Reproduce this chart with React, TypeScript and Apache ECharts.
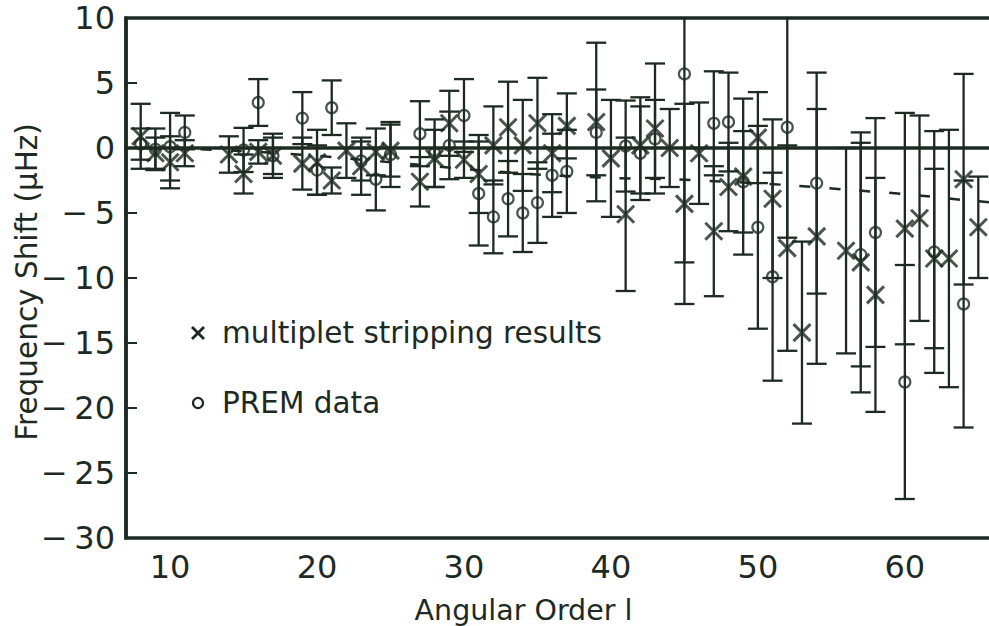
import React, { useEffect, useRef } from "react";
import * as echarts from "echarts";

// Angular order l and frequency shifts (μHz) with symmetric errors
const multL = [8, 9, 10, 11, 14, 15, 16, 17, 19, 20, 21, 22, 23, 24, 25, 27, 28, 29, 30, 31, 32, 33, 34, 35, 36, 37, 39, 40, 41, 42, 43, 44, 45, 46, 47, 48, 49, 50, 51, 52, 53, 54, 56, 57, 58, 60, 61, 62, 63, 64, 65];
const multVal = [0.9, -0.4, -1.1, -0.4, -0.5, -2.0, -0.3, -0.6, -1.2, -1.1, -2.5, -0.2, -1.4, -0.3, -0.2, -2.6, -0.8, 1.9, -0.9, -2.0, 0.2, 1.6, 0.2, 1.9, -0.4, 1.7, 2.0, -0.8, -5.1, 0.2, 1.5, 0.0, -4.3, -0.4, -6.4, -3.0, -2.2, 0.8, -3.9, -7.7, -14.2, -6.8, -7.9, -8.8, -11.3, -6.2, -5.4, -8.5, -8.5, -2.4, -6.1];
const multErr = [2.5, 1.2, 2.0, 1.0, 1.4, 1.5, 0.9, 1.7, 2.0, 2.5, 1.0, 2.1, 2.2, 1.8, 2.0, 1.9, 2.2, 2.5, 1.4, 3.0, 3.0, 3.5, 3.5, 3.5, 3.0, 2.5, 6.1, 4.5, 5.9, 3.7, 5.0, 3.0, 7.7, 3.9, 5.0, 3.4, 6.0, 3.5, 6.1, 7.9, 7.0, 9.8, 7.9, 10.0, 9.0, 8.9, 7.9, 6.9, 9.9, 8.1, 3.9];

const premL = [8, 9, 10, 11, 15, 16, 17, 19, 20, 21, 23, 24, 25, 27, 28, 29, 30, 31, 32, 33, 34, 35, 36, 37, 39, 41, 42, 43, 45, 47, 48, 49, 50, 51, 52, 54, 57, 58, 60, 62, 64];
const premVal = [0.3, -0.1, 0.1, 1.2, -0.15, 3.5, -0.6, 2.3, -1.7, 3.1, -1.0, -2.4, -0.5, 1.1, -0.4, 0.2, 2.5, -3.5, -5.3, -3.9, -5.0, -4.2, -2.1, -1.8, 1.2, 0.15, -0.4, 0.7, 5.7, 1.9, 2.0, -2.6, -6.1, -9.9, 1.6, -2.7, -8.2, -6.5, -18.0, -8.0, -12.0];
const premErr = [1.2, 1.6, 2.6, 1.3, 1.7, 1.8, 1.4, 2.0, 1.9, 2.1, 1.5, 2.4, 2.5, 2.5, 2.6, 2.6, 2.8, 4.0, 2.8, 2.9, 3.0, 3.1, 3.2, 3.2, 3.3, 3.5, 3.6, 3.0, 14.5, 4.0, 3.8, 3.9, 7.8, 8.0, 8.5, 8.5, 8.6, 8.8, 9.0, 9.3, 9.5];

const modelL = [8, 12, 16, 20, 24, 28, 32, 36, 40, 44, 48, 52, 56, 60, 64, 66];
const modelVal = [0.0, -0.1, -0.3, -0.6, -1.0, -1.4, -1.8, -2.1, -2.3, -2.4, -2.6, -2.85, -3.2, -3.55, -4.0, -4.2];

const zeroL = [7, 66];
const zeroVal = [0, 0];

const xTickLabels = ["10", "20", "30", "40", "50", "60"];
const legendLabels = ["multiplet stripping results", "PREM data"];

const INK = "#1d2a24";
const FONT = "DejaVu Sans";

function errorBarSeries(ls: number[], vs: number[], es: number[]) {
  return {
    type: "custom",
    clip: true,
    z: 2,
    encode: { x: 0, y: [1, 2] },
    data: ls.map((l, i) => [l, vs[i] - es[i], vs[i] + es[i]]),
    renderItem: (_p: any, api: any) => {
      const x = api.value(0);
      const top = api.coord([x, api.value(2)]);
      const bot = api.coord([x, api.value(1)]);
      const w = 10;
      const st = { stroke: INK, lineWidth: 2.3 };
      return {
        type: "group",
        children: [
          { type: "line", shape: { x1: top[0], y1: top[1], x2: bot[0], y2: bot[1] }, style: st },
          { type: "line", shape: { x1: top[0] - w, y1: top[1], x2: top[0] + w, y2: top[1] }, style: st },
          { type: "line", shape: { x1: bot[0] - w, y1: bot[1], x2: bot[0] + w, y2: bot[1] }, style: st },
        ],
      };
    },
  };
}

export default function App() {
  const ref = useRef<HTMLDivElement>(null);
  useEffect(() => {
    if (!ref.current) return;
    const chart = echarts.init(ref.current, null, { renderer: "svg" });
    chart.setOption({
      animation: false,
      backgroundColor: "#ffffff",
      grid: {
        left: 126,
        top: 18,
        width: 867,
        height: 520,
        outerBoundsMode: "none",
        containLabel: false,
        show: true,
        borderColor: INK,
        borderWidth: 3.5,
        backgroundColor: "transparent",
      },
      xAxis: {
        type: "value",
        min: 7,
        max: 66,
        name: "Angular Order l",
        nameLocation: "middle",
        nameGap: 58,
        nameMoveOverlap: false,
        nameTextStyle: { fontFamily: FONT, fontSize: 28.5, color: INK, padding: [0, 72, 0, 0] },
        axisLine: { lineStyle: { color: INK, width: 3.5 } },
        axisTick: { inside: true, length: 11, lineStyle: { color: INK, width: 2 } },
        splitLine: { show: false },
        axisLabel: {
          margin: 13,
          fontFamily: FONT,
          fontSize: 32,
          color: INK,
          formatter: (v: number) => (xTickLabels.includes(String(v)) ? String(v) : ""),
        },
      },
      yAxis: {
        type: "value",
        min: -30,
        max: 10,
        interval: 5,
        name: "Frequency Shift (μHz)",
        nameLocation: "middle",
        nameGap: 84,
        nameMoveOverlap: false,
        nameTextStyle: { fontFamily: FONT, fontSize: 29.5, color: INK, padding: [0, 8, 0, 0] },
        axisLine: { lineStyle: { color: INK, width: 3.5 } },
        axisTick: { inside: true, length: 11, lineStyle: { color: INK, width: 2 } },
        splitLine: { show: false },
        axisLabel: {
          margin: 11,
          fontFamily: FONT,
          fontSize: 32,
          color: INK,
          formatter: (v: number) => (v < 0 ? "\u2212\u2009" + Math.abs(v) : String(v)),
        },
      },
      series: [
        {
          type: "line",
          data: zeroL.map((l, i) => [l, zeroVal[i]]),
          symbol: "none",
          lineStyle: { color: INK, width: 2 },
          z: 1,
          silent: true,
        },
        {
          type: "line",
          data: modelL.map((l, i) => [l, modelVal[i]]),
          symbol: "none",
          smooth: 0.3,
          lineStyle: { color: INK, width: 2.5, type: [11, 19] },
          z: 4,
          silent: true,
        },
        errorBarSeries(multL, multVal, multErr),
        errorBarSeries(premL, premVal, premErr),
        {
          type: "scatter",
          name: legendLabels[0],
          data: multL.map((l, i) => [l, multVal[i]]),
          symbol: "path://M0,0L10,10M10,0L0,10",
          symbolSize: 17,
          itemStyle: { color: "rgba(0,0,0,0)", borderColor: INK, borderWidth: 3 },
          z: 3,
        },
        {
          type: "scatter",
          name: legendLabels[1],
          data: premL.map((l, i) => [l, premVal[i]]),
          symbol: "circle",
          symbolSize: 11,
          itemStyle: { color: "rgba(0,0,0,0)", borderColor: INK, borderWidth: 2.2 },
          z: 3,
        },
      ],
      graphic: [
        { type: "line", shape: { x1: 192, y1: 327, x2: 204, y2: 339 }, style: { stroke: INK, lineWidth: 2.8 } },
        { type: "line", shape: { x1: 204, y1: 327, x2: 192, y2: 339 }, style: { stroke: INK, lineWidth: 2.8 } },
        {
          type: "text",
          x: 222,
          y: 333,
          style: { text: legendLabels[0], fontFamily: FONT, fontSize: 29.5, fill: INK, verticalAlign: "middle" },
        },
        { type: "circle", shape: { cx: 198, cy: 403, r: 5 }, style: { fill: "none", stroke: INK, lineWidth: 2.2 } },
        {
          type: "text",
          x: 222,
          y: 403,
          style: { text: legendLabels[1], fontFamily: FONT, fontSize: 29.5, fill: INK, verticalAlign: "middle" },
        },
      ],
    });
    return () => chart.dispose();
  }, []);
  return <div ref={ref} style={{ position: "absolute", left: 0, top: 0, width: 989, height: 626 }} />;
}
